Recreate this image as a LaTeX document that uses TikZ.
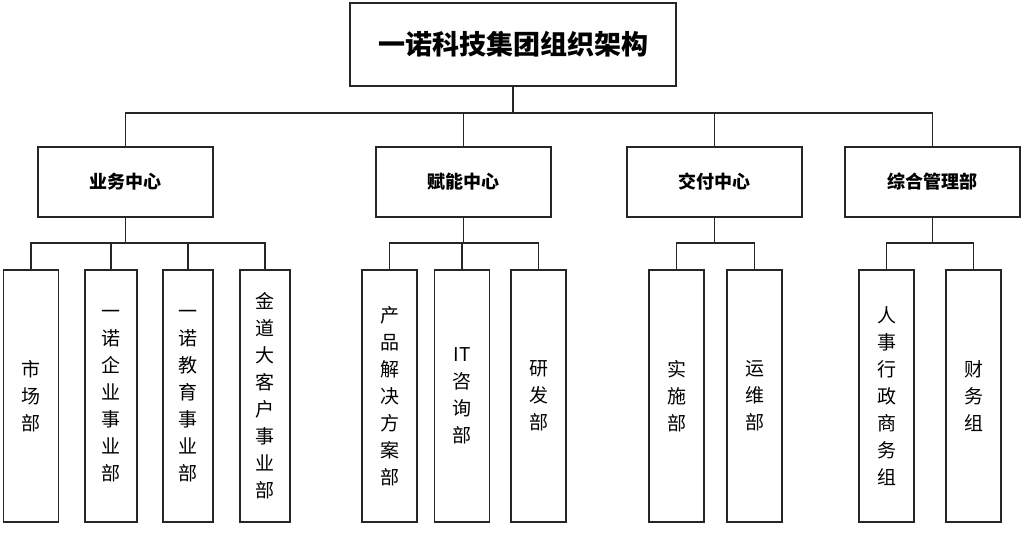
\documentclass[tikz,border=0pt]{standalone}
\usepackage{fontspec}
\setmainfont{Noto Sans CJK SC}
\begin{document}
\begin{tikzpicture}[x=1pt,y=-1pt,
  box/.style={draw=black!85,line width=1.1pt,fill=white,inner sep=0pt},
  mid/.style={box,minimum width=175pt,minimum height=70pt,font=\fontsize{18}{20}\selectfont\bfseries},
  leaf/.style={box,minimum width=55pt,minimum height=252pt,align=center,font=\fontsize{19}{27}\selectfont},
  ln/.style={draw=black!85,line width=1.1pt}]
\useasboundingbox (0,0) rectangle (1024,540);
\node[box,minimum width=326pt,minimum height=83pt,font=\fontsize{27}{30}\selectfont\bfseries] (root) at (513,44.5) {一诺科技集团组织架构};
\node[mid] (a) at (125.5,182) {业务中心};
\node[mid] (b) at (463.5,182) {赋能中心};
\node[mid] (c) at (714.5,182) {交付中心};
\node[mid] (d) at (932.5,182) {综合管理部};
\coordinate (r1) at (513,113);
\draw[ln] (root.south) -- (r1);
\draw[ln] (a.north) -- (125.5,113) -- (932.5,113) -- (d.north);
\draw[ln] (b.north) -- (463.5,113);
\draw[ln] (c.north) -- (714.5,113);
\node[leaf] (a1) at (31,396) {市\\场\\部};
\node[leaf,minimum width=52pt] (a2) at (111,396) {一\\诺\\企\\业\\事\\业\\部};
\node[leaf,minimum width=50pt] (a3) at (188,396) {一\\诺\\教\\育\\事\\业\\部};
\node[leaf,minimum width=50pt] (a4) at (265,396) {金\\道\\大\\客\\户\\事\\业\\部};
\node[leaf] (b1) at (389.5,396) {产\\品\\解\\决\\方\\案\\部};
\node[leaf] (b2) at (462,396) {IT\\咨\\询\\部};
\node[leaf] (b3) at (538.5,396) {研\\发\\部};
\node[leaf] (c1) at (676.5,396) {实\\施\\部};
\node[leaf] (c2) at (754.5,396) {运\\维\\部};
\node[leaf] (d1) at (886.5,396) {人\\事\\行\\政\\商\\务\\组};
\node[leaf] (d2) at (973.5,396) {财\\务\\组};
\foreach \p/\l/\r in {a/a1/a4,b/b1/b3,c/c1/c2,d/d1/d2}{
  \draw[ln] (\p.south) -- (\p.south|-0,243);
  \draw[ln] (\l.north) -- (\l.north|-0,243) -- (\r.north|-0,243) -- (\r.north);
}
\foreach \n in {a2,a3,b2}{\draw[ln] (\n.north) -- (\n.north|-0,243);}
\end{tikzpicture}
\end{document}
